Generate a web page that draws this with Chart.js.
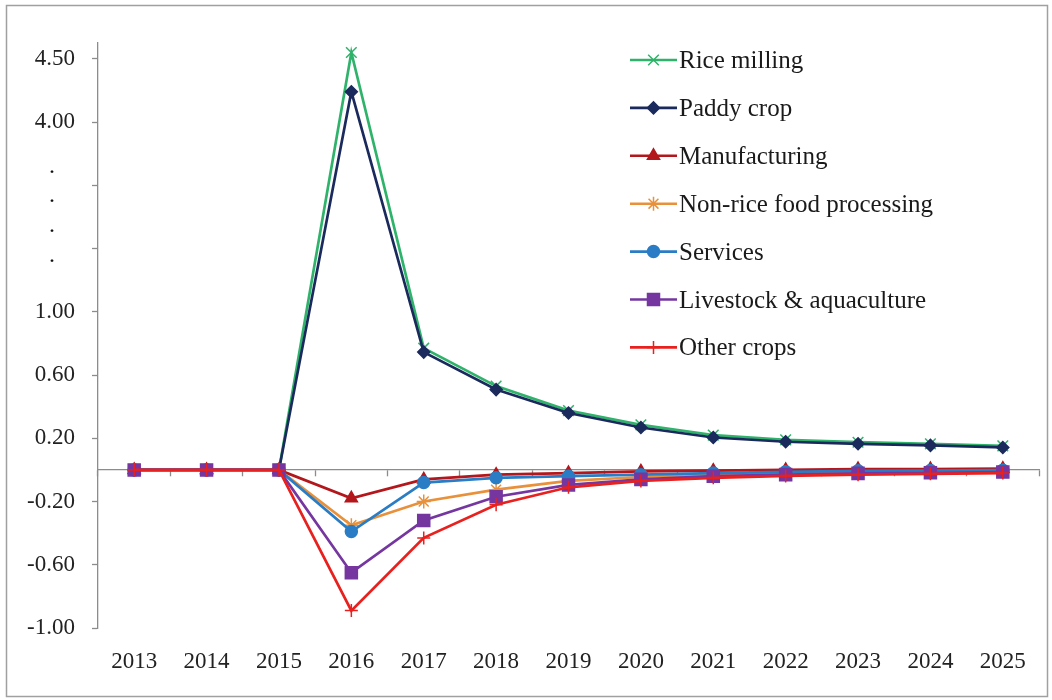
<!DOCTYPE html>
<html>
<head>
<meta charset="utf-8">
<title>Sector impacts 2013-2025</title>
<script src="https://cdn.jsdelivr.net/npm/chart.js@4/dist/chart.umd.min.js"></script>
<style>
    body { margin: 0; background: #fff; }
    #wrap { width: 1052px; height: 700px; }
</style>
</head>
<body>
<div id="wrap"><canvas id="chart" width="1052" height="700"></canvas></div>
<script>
// years on the category axis
const years = ['2013', '2014', '2015', '2016', '2017', '2018', '2019', '2020', '2021', '2022', '2023', '2024', '2025'];

// series values
const riceMilling   = [0, 0, 0, 4.55, 0.77, 0.53, 0.375, 0.285, 0.22, 0.19, 0.175, 0.165, 0.152];
const paddyCrop     = [0, 0, 0, 4.24, 0.745, 0.508, 0.36, 0.268, 0.205, 0.178, 0.165, 0.155, 0.142];
const manufacturing = [0, 0, 0, -0.18, -0.06, -0.03, -0.02, -0.01, -0.005, 0, 0.005, 0.005, 0.008];
const nonRiceFood   = [0, 0, 0, -0.35, -0.20, -0.125, -0.07, -0.045, -0.03, -0.02, -0.012, -0.01, -0.006];
const services      = [0, 0, 0, -0.39, -0.08, -0.05, -0.04, -0.03, -0.02, -0.012, -0.006, -0.004, -0.002];
const livestock     = [0, 0, 0, -0.65, -0.32, -0.17, -0.095, -0.06, -0.04, -0.03, -0.022, -0.018, -0.014];
const otherCrops    = [0, 0, 0, -0.89, -0.43, -0.22, -0.11, -0.07, -0.05, -0.038, -0.03, -0.025, -0.02];

// y axis ticks (axis units) and their labels; the axis is broken between 1.00 and 4.00
const yTickAt     = [-1.0, -0.6, -0.2, 0.2, 0.6, 1.0, 1.4, 1.8, 2.2, 2.6];
const yTickLabels = ['-1.00', '-0.60', '-0.20', '0.20', '0.60', '1.00', '', '', '4.00', '4.50'];
// dots marking the break
const breakDots = [1.33, 1.515, 1.705, 1.89];

// values above the break are shifted down and squeezed
function toAxis(v) {
    return v > 2 ? 2.2 + (v - 4) * 0.8 : v;
}

const FONT = "'Liberation Serif', 'DejaVu Serif', serif";
const AXIS_GREY = '#8c8c8c';

const series = [
    { label: 'Rice milling', data: riceMilling, color: '#2fb36a', style: 'crossRot', radius: 7.5 },
    { label: 'Paddy crop', data: paddyCrop, color: '#1b2a5c', style: 'rectRot', radius: 6 },
    { label: 'Manufacturing', data: manufacturing, color: '#b3171c', style: 'triangle', radius: 7 },
    { label: 'Non-rice food processing', data: nonRiceFood, color: '#e8913a', style: 'star', radius: 7 },
    { label: 'Services', data: services, color: '#2a7dc4', style: 'circle', radius: 6 },
    { label: 'Livestock & aquaculture', data: livestock, color: '#7536a0', style: 'rect', radius: 8.5 },
    { label: 'Other crops', data: otherCrops, color: '#e8201e', style: 'cross', radius: 6.5 }
];

// frame, break dots and the legend list
const extras = {
    id: 'extras',
    beforeDraw(chart) {
        const ctx = chart.ctx;
        ctx.save();
        ctx.fillStyle = '#fff';
        ctx.fillRect(0, 0, chart.width, chart.height);
        ctx.strokeStyle = '#a0a0a0';
        ctx.lineWidth = 1.5;
        ctx.strokeRect(6.5, 5.5, chart.width - 11, chart.height - 9);
        ctx.restore();
    },
    afterDatasetsDraw(chart) {
        const ctx = chart.ctx;
        const y = chart.scales.y;
        ctx.save();
        ctx.fillStyle = '#111';
        ctx.font = '24px ' + FONT;
        ctx.textAlign = 'center';
        ctx.textBaseline = 'alphabetic';
        breakDots.forEach(function (v) {
            ctx.fillText('.', 52, y.getPixelForValue(v) + 2);
        });

        ctx.font = '25px ' + FONT;
        ctx.textAlign = 'left';
        series.forEach(function (s, i) {
            const ly = 60 + i * 47.9;
            ctx.strokeStyle = s.color;
            ctx.lineWidth = 2.6;
            ctx.beginPath();
            ctx.moveTo(630, ly);
            ctx.lineTo(677, ly);
            ctx.stroke();
            ctx.fillStyle = s.color;
            ctx.lineWidth = 1.5;
            Chart.helpers.drawPoint(ctx, { pointStyle: s.style, radius: s.radius, borderWidth: 1.5, rotation: 0 }, 653.5, ly);
            ctx.fillStyle = '#1a1a1a';
            ctx.fillText(s.label, 679, ly + 8);
        });
        ctx.restore();
    }
};

const ctx = document.getElementById('chart').getContext('2d');
const myChart = new Chart(ctx, {
    type: 'line',
    data: {
        labels: years,
        datasets: series.map(function (s, i) {
            return {
                label: s.label,
                data: s.data.map(toAxis),
                xAxisID: 'x',
                borderColor: s.color,
                backgroundColor: s.color,
                borderWidth: 2.7,
                pointStyle: s.style,
                pointRadius: s.radius,
                pointBorderWidth: 1.5,
                pointHoverRadius: s.radius,
                tension: 0,
                fill: false,
                order: series.length - i
            };
        })
    },
    options: {
        responsive: false,
        animation: false,
        layout: {
            padding: { left: 0, top: 43, right: 13, bottom: 0 }
        },
        scales: {
            x: {
                type: 'category',
                position: { y: 0 },
                offset: true,
                grid: {
                    offset: true,
                    drawOnChartArea: false,
                    drawTicks: true,
                    tickLength: 6,
                    tickColor: AXIS_GREY,
                    tickWidth: 1.3
                },
                border: { color: AXIS_GREY, width: 1.3 },
                ticks: { display: false }
            },
            x2: {
                type: 'category',
                position: 'bottom',
                labels: years,
                offset: true,
                grid: { display: false, drawTicks: false },
                border: { display: false },
                ticks: {
                    color: '#222',
                    font: { family: FONT, size: 23 },
                    padding: 20,
                    maxRotation: 0,
                    autoSkip: false
                },
                afterFit(scale) {
                    scale.height = 72;
                }
            },
            y: {
                min: -1.0,
                max: 2.7,
                grid: {
                    drawOnChartArea: false,
                    drawTicks: true,
                    tickLength: 6,
                    tickColor: AXIS_GREY,
                    tickWidth: 1.3
                },
                border: { color: AXIS_GREY, width: 1.3 },
                ticks: {
                    color: '#222',
                    font: { family: FONT, size: 23 },
                    padding: 17,
                    callback: function (value) {
                        const k = yTickAt.findIndex(t => Math.abs(t - value) < 1e-6);
                        return k >= 0 ? yTickLabels[k] : '';
                    }
                },
                afterBuildTicks(scale) {
                    scale.ticks = yTickAt.map(v => ({ value: v }));
                },
                afterFit(scale) {
                    scale.width = 98;
                }
            }
        },
        plugins: {
            legend: { display: false },
            tooltip: { enabled: false }
        }
    },
    plugins: [extras]
});
</script>
</body>
</html>
